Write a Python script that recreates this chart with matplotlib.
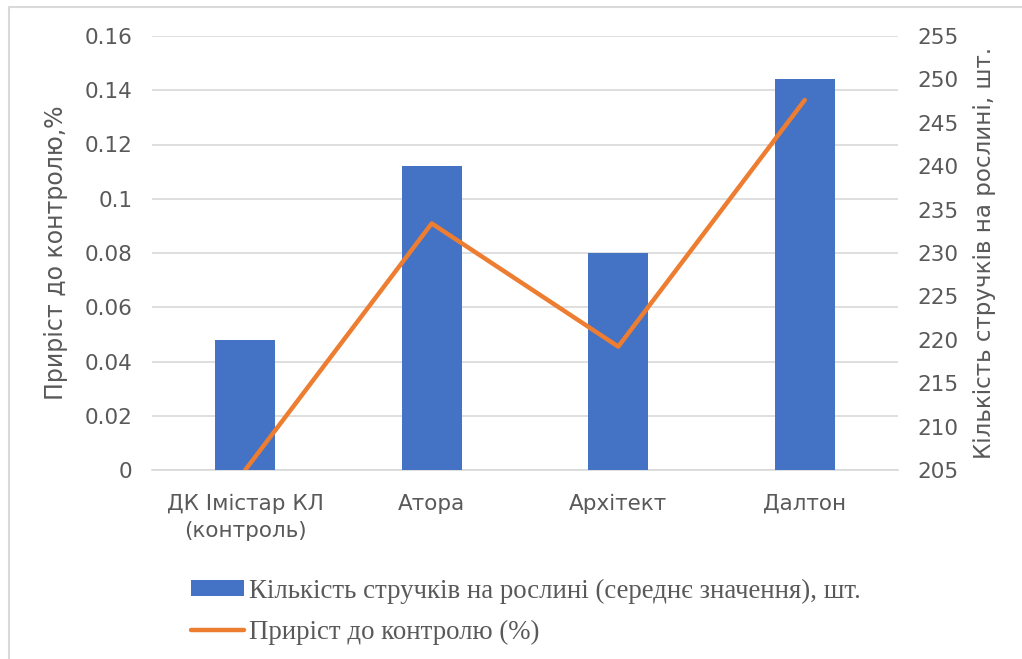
import numpy as np
import matplotlib.pyplot as plt

categories = ['ДК Імістар КЛ\n(контроль)', 'Атора', 'Архітект', 'Далтон']
pods = [220, 240, 230, 250]  # штук на рослині
growth = [0, 0.0909, 0.0455, 0.1364]  # приріст до контролю

bar_name = 'Кількість стручків на рослині (середнє значення), шт.'
line_name = 'Приріст до контролю (%)'

txt = '#595959'
fig = plt.figure(figsize=(10.22, 6.59), dpi=100)
ax = fig.add_axes([152/1022, 189/659, 746/1022, 434/659])
axb = ax.twinx()
axl = ax.twinx()

x = np.arange(len(categories))

# left axis: grid only
ax.set_ylim(0, 0.16)
ax.set_yticks(np.arange(0, 0.161, 0.02))
ax.set_yticklabels(['0', '0.02', '0.04', '0.06', '0.08', '0.1', '0.12', '0.14', '0.16'])
ax.set_xlim(-0.5, len(categories) - 0.5)
ax.set_xticks(x)
ax.set_xticklabels(categories, linespacing=1.45)
ax.grid(axis='y', color='#D9D9D9', lw=1.2)
ax.set_axisbelow(True)
ax.tick_params(length=0, labelsize=15.5, labelcolor=txt, pad=14)
ax.tick_params(axis='x', pad=17)
ax.set_ylabel('Приріст до контролю,%', fontsize=17, color=txt, labelpad=12)

# bars on right axis
bars = axb.bar(x, pods, width=0.32, color='#4472C4', zorder=2)
axb.set_ylim(205, 255)
axb.set_yticks(np.arange(205, 256, 5))
axb.tick_params(length=0, labelsize=15.5, labelcolor=txt, pad=14)
axb.set_ylabel('Кількість стручків на рослині, шт.', fontsize=16.6, color=txt, labelpad=10)

# line shares left scale
ln, = axl.plot(x, growth, color='#ED7D31', lw=3.2, solid_capstyle='round')
axl.set_ylim(0, 0.16)
axl.set_yticks([])

for a in (ax, axb, axl):
    for s in a.spines.values():
        s.set_visible(False)
ax.spines['bottom'].set_visible(True)
ax.spines['bottom'].set_color('#D9D9D9')
ax.spines['bottom'].set_linewidth(1.2)

fig.legend([bars, ln], [bar_name, line_name], loc='upper left',
           bbox_to_anchor=(178/1022, 1 - 565/659), frameon=False, borderpad=0,
           prop={'family': 'Liberation Serif', 'size': 19.4}, labelcolor=txt,
           handlelength=1.95, handleheight=0.5, handletextpad=0.18, labelspacing=0.6)

# chart area border (light gray)
fig.add_artist(plt.Line2D([9/1022, 9/1022, 1], [0, 1 - 7/659, 1 - 7/659],
                          color='#D9D9D9', lw=1.5, transform=fig.transFigure))

fig.savefig('out.png', dpi=100)
